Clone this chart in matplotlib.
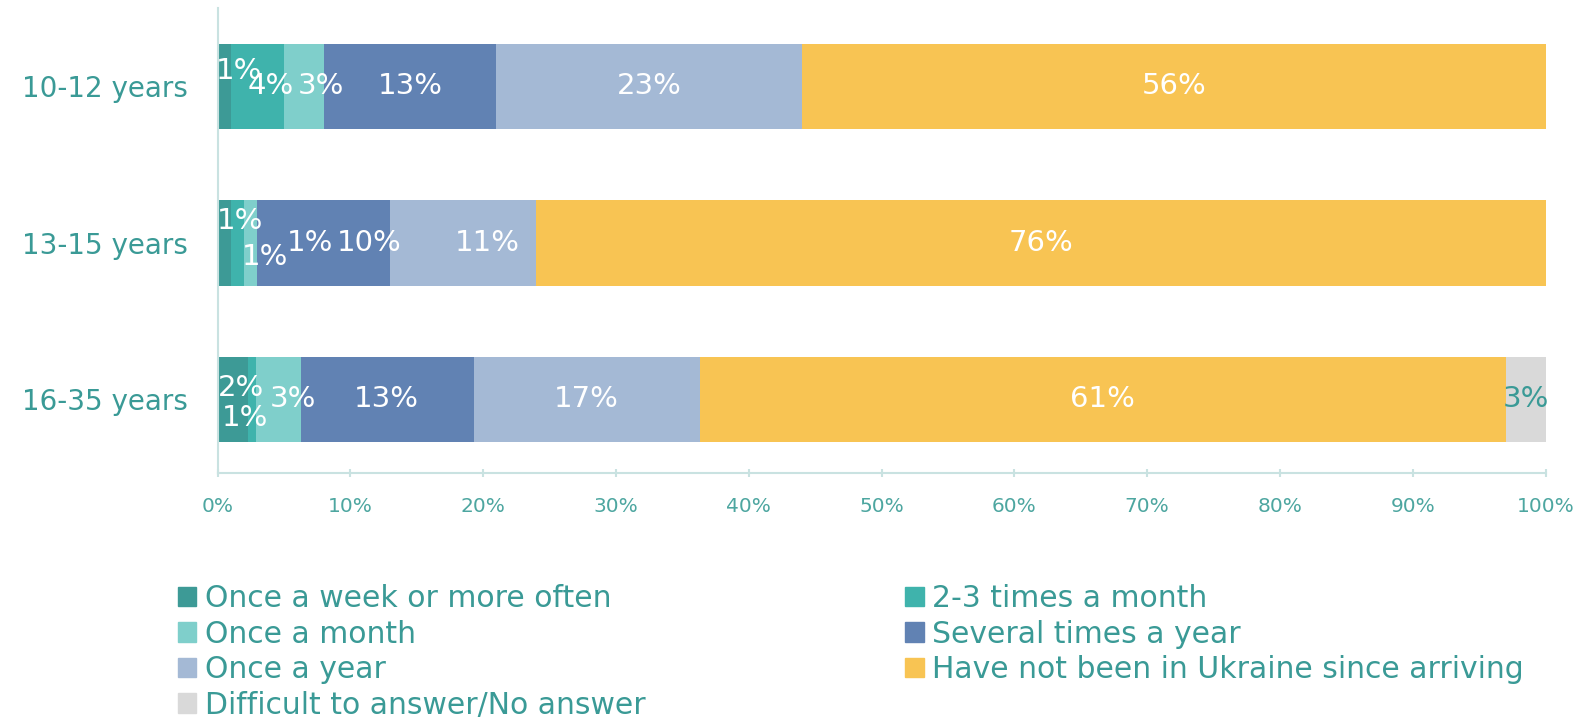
import numpy as np
import matplotlib.pyplot as plt
from matplotlib.patches import Patch

plt.rcParams['font.family'] = ['DejaVu Sans']

groups = ['10-12 years', '13-15 years', '16-35 years']
series = ['Once a week or more often', '2-3 times a month', 'Once a month',
          'Several times a year', 'Once a year',
          'Have not been in Ukraine since arriving', 'Difficult to answer/No answer']
values = np.array([
    [1.0, 4.0, 3.0, 13.0, 23.0, 56.0, 0.0],
    [1.0, 1.0, 1.0, 10.0, 11.0, 76.0, 0.0],
    [2.3, 0.6, 3.4, 13.0, 17.0, 60.7, 3.0],
])
colors = ['#3d9a96', '#3fb3ac', '#7fcfcb', '#6182b3', '#a4b9d5', '#f8c453', '#d9d9d9']
teal = '#3a9a96'

# label nudges (x in %, y in bar units) where labels were moved to avoid overlap
nudge = {
    (0, 0): (1.1, -0.1), (0, 1): (1.0, 0), (0, 2): (1.3, 0),
    (1, 0): (1.2, -0.14), (1, 1): (2.1, 0.09), (1, 2): (4.5, 0), (1, 3): (3.4, 0), (1, 4): (1.8, 0),
    (2, 0): (0.6, -0.07), (2, 1): (-0.5, 0.12), (2, 2): (1.1, 0), (2, 3): (-0.1, 0),
}

fig = plt.figure(figsize=(15.87, 7.23), dpi=100)
ax = fig.add_axes([217.5 / 1587, 1 - 473 / 723, (1545.5 - 217.5) / 1587, (473 - 8) / 723])

y = np.arange(len(groups))
left = np.zeros(len(groups))
for j, name in enumerate(series):
    ax.barh(y, values[:, j], left=left, height=0.545, color=colors[j], label=name)
    for i in range(len(groups)):
        v = values[i, j]
        if v <= 0:
            continue
        dx, dy = nudge.get((i, j), (0, 0))
        c = teal if j == 6 else 'white'
        ax.text(left[i] + v / 2 + dx, y[i] + dy, f'{round(v):.0f}%', ha='center', va='center',
                fontsize=21, color=c)
    left += values[:, j]

ax.set_xlim(0, 100)
ax.set_ylim(2.47, -0.5)
ax.set_yticks(y)
ax.set_yticklabels(groups, fontsize=20, color=teal)
ax.tick_params(axis='y', length=0, pad=21.5)
ax.set_xticks(np.arange(0, 101, 10))
ax.set_xticklabels([f'{t}%' for t in range(0, 101, 10)], fontsize=14.5, color='#4da6a0')
ax.tick_params(axis='x', length=6, color='#c9e2e1', width=1.5, direction='inout', pad=14)
for s in ['top', 'right']:
    ax.spines[s].set_visible(False)
for s in ['left', 'bottom']:
    ax.spines[s].set_color('#c9e2e1')
    ax.spines[s].set_linewidth(1.5)

order = [0, 2, 4, 6, 1, 3, 5]
handles = [Patch(color=colors[k]) for k in order]
labels = [series[k] for k in order]
leg = fig.legend(handles, labels, ncol=2, loc='upper left', bbox_to_anchor=(166 / 1587, 1 - 572 / 723),
                 frameon=False, fontsize=21.5, handlelength=0.62, handleheight=0.62, handletextpad=0.28,
                 labelspacing=0.22, columnspacing=8.7, borderaxespad=0)
for t in leg.get_texts():
    t.set_color(teal)

fig.savefig('out.png', dpi=100)
